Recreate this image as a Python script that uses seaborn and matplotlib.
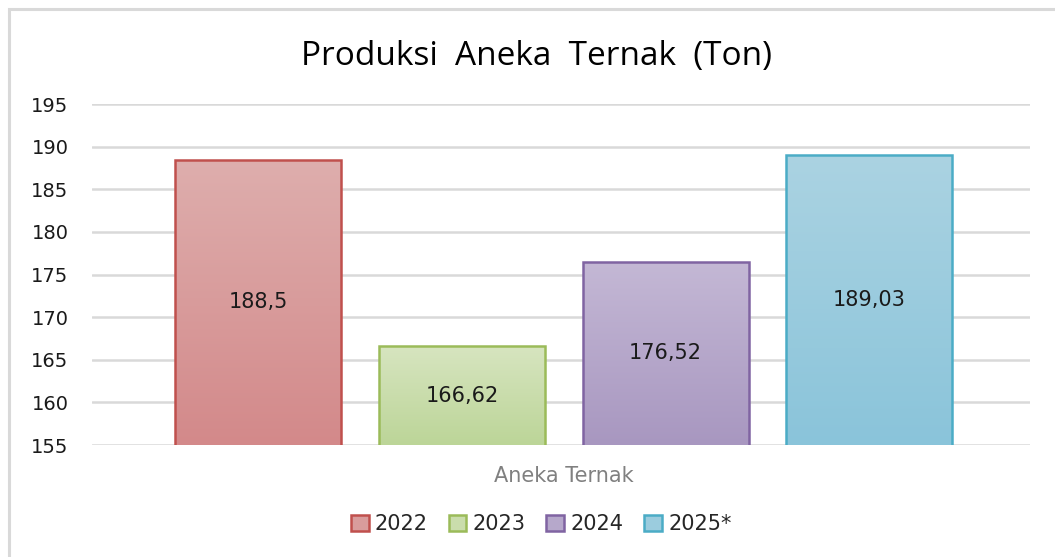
import matplotlib
matplotlib.use("Agg")
import matplotlib.pyplot as plt
import seaborn as sns
import numpy as np
import pandas as pd
from matplotlib.patches import Rectangle, Patch
from matplotlib.colors import LinearSegmentedColormap

category = ["Aneka Ternak"]
years = ["2022", "2023", "2024", "2025*"]
values = [188.5, 166.62, 176.52, 189.03]
labels = ["188,5", "166,62", "176,52", "189,03"]
yticks = [155, 160, 165, 170, 175, 180, 185, 190, 195]

top_colors = ["#DEAEAD", "#D7E5C0", "#C4B8D5", "#ABD3E2"]
bot_colors = ["#D3898A", "#BCD598", "#A897C0", "#8AC4DA"]
edge_colors = ["#C0504D", "#9BBB59", "#8064A2", "#4BACC6"]

df = pd.DataFrame({"cat": category * len(years), "year": years, "val": values})

sns.set_theme(style="white")
plt.rcParams["font.family"] = ["DejaVu Sans"]

fig = plt.figure(figsize=(10.55, 5.57), dpi=100)
ax = fig.add_axes([0.0872, 0.201, 0.889, 0.612])

sns.barplot(data=df, x="cat", y="val", hue="year", hue_order=years,
            palette=edge_colors, width=0.869, gap=0.185, ax=ax,
            legend=False, errorbar=None)

ax.set_ylim(155, 195)
ax.set_xlim(-0.503, 0.497)
ax.set_yticks(yticks)
ax.set_yticklabels([str(t) for t in yticks], fontsize=14, color="#1a1a1a")
ax.yaxis.grid(True, color="#D9D9D9", linewidth=1.8)
ax.set_axisbelow(True)
for s in ax.spines.values():
    s.set_visible(False)
ax.tick_params(axis="y", length=0, pad=17)
ax.tick_params(axis="x", length=0)
ax.set_xticks([])
ax.set_xlabel("")
ax.set_ylabel("")

for i, p in enumerate(ax.patches[:4]):
    x0, y0 = p.get_x(), p.get_y()
    w, h = p.get_width(), p.get_height()
    cmap = LinearSegmentedColormap.from_list("g", [bot_colors[i], top_colors[i]])
    grad = np.linspace(0, 1, 256).reshape(-1, 1)
    im = ax.imshow(grad, cmap=cmap, aspect="auto", origin="lower",
                   extent=[x0, x0 + w, 155, y0 + h], zorder=2)
    im.set_clip_path(p)
    p.set_facecolor("none")
    p.set_edgecolor(edge_colors[i])
    p.set_linewidth(1.8)
    p.set_zorder(3)
    ax.text(x0 + w / 2, 155 + (y0 + h - 155) / 2, labels[i], ha="center",
            va="center", fontsize=15, color="#1a1a1a", zorder=4)

fig.text(0.534, 0.146, "Aneka Ternak", ha="center", va="center",
         fontsize=15, color="#808080")
fig.text(0.509, 0.898, "Produksi  Aneka  Ternak  (Ton)", ha="center",
         va="center", fontsize=24, color="#000000", family="Open Sans")

handles = [Patch(facecolor=(np.array(matplotlib.colors.to_rgb(top_colors[i])) +
                            np.array(matplotlib.colors.to_rgb(bot_colors[i]))) / 2,
                 edgecolor=edge_colors[i], linewidth=1.8, label=years[i])
           for i in range(4)]
fig.legend(handles=handles, loc="center", bbox_to_anchor=(0.513, 0.059),
           ncol=4, frameon=False, fontsize=15, handlelength=0.85,
           handleheight=0.85, handletextpad=0.3, columnspacing=1.0)

fig.patches.append(Rectangle((9 / 1055, -0.05), 1.2, 1 - 9 / 557 + 0.05,
                             transform=fig.transFigure, fill=False,
                             edgecolor="#D9D9D9", linewidth=2.2))

fig.savefig("out.png", dpi=100)
